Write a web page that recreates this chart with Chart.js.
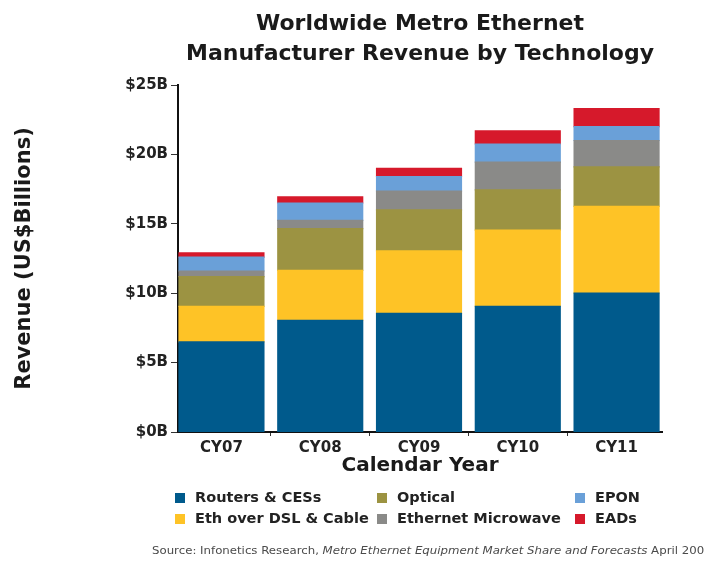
<!DOCTYPE html>
<html>
<head>
<meta charset="utf-8">
<script src="https://cdn.jsdelivr.net/npm/chart.js@4/dist/chart.umd.min.js"></script>
<style>
  html, body { margin: 0; padding: 0; background: #ffffff; }
  #wrap { position: relative; width: 704px; height: 564px; }
</style>
</head>
<body>
<div id="wrap"><canvas id="chart"></canvas></div>
<script>
// Worldwide metro Ethernet manufacturer revenue, US$ billions
const categories = ['CY07', 'CY08', 'CY09', 'CY10', 'CY11'];
const routersCES = [6.5, 8.05, 8.55, 9.05, 10.0];
const ethOverDslCable = [2.55, 3.6, 4.5, 5.5, 6.25];
const optical = [2.15, 3.0, 2.95, 2.9, 2.85];
const ethernetMicrowave = [0.4, 0.6, 1.35, 2.0, 1.9];
const epon = [1.0, 1.25, 1.05, 1.3, 1.0];
const eads = [0.3, 0.45, 0.6, 0.95, 1.3];
const yTicks = [0, 5, 10, 15, 20, 25];

const seriesNames = ['Routers & CESs', 'Eth over DSL & Cable', 'Optical', 'Ethernet Microwave', 'EPON', 'EADs'];
const seriesValues = [routersCES, ethOverDslCable, optical, ethernetMicrowave, epon, eads];
const seriesColors = ['#005a8c', '#fec326', '#9c9342', '#8a8a88', '#6aa0d8', '#d6192b'];

const FONT = "'DejaVu Sans', sans-serif";

const datasets = seriesNames.map((name, s) => ({
  label: name,
  data: seriesValues[s].map((v, i) => ({ x: i, y: v })),
  backgroundColor: seriesColors[s],
  borderWidth: 0,
  inflateAmount: 0.6,
  barPercentage: 0.86,
  categoryPercentage: 1
}));

// Legend laid out in three columns of two, plus the source line
const footerPlugin = {
  id: 'footer',
  afterDraw(chart) {
    const ctx = chart.ctx;
    const colX = [175, 377, 575];
    const rowY = [493, 514];
    ctx.save();
    ctx.font = 'bold 14.5px ' + FONT;
    ctx.textBaseline = 'middle';
    ctx.textAlign = 'left';
    chart.data.datasets.forEach((ds, i) => {
      const x = colX[Math.floor(i / 2)];
      const y = rowY[i % 2];
      ctx.fillStyle = ds.backgroundColor;
      ctx.fillRect(x, y, 10, 10);
      ctx.fillStyle = '#222222';
      ctx.fillText(ds.label, x + 20, y + 5.5);
    });
    ctx.restore();

    // source line, set in a slightly widened face
    const parts = [
      ['Source: Infonetics Research, ', 'normal'],
      ['Metro Ethernet Equipment Market Share and Forecasts', 'italic'],
      [' April 2008', 'normal']
    ];
    ctx.save();
    ctx.translate(152, 551);
    ctx.scale(1.2, 1);
    ctx.textBaseline = 'middle';
    ctx.textAlign = 'left';
    ctx.fillStyle = '#4a4a4a';
    let sx = 0;
    parts.forEach(([txt, style]) => {
      ctx.font = style + ' 9.8px ' + FONT;
      ctx.fillText(txt, sx, 0);
      sx += ctx.measureText(txt).width;
    });
    ctx.restore();
  }
};

new Chart(document.getElementById('chart'), {
  type: 'bar',
  data: { datasets },
  plugins: [footerPlugin],
  options: {
    responsive: true,
    maintainAspectRatio: false,
    animation: false,
    layout: { padding: { left: 0, right: 42, top: 0, bottom: 85 } },
    plugins: {
      legend: { display: false },
      tooltip: { enabled: false },
      title: {
        display: true,
        fullSize: false,
        text: ['Worldwide Metro Ethernet', 'Manufacturer Revenue by Technology'],
        color: '#1a1a1a',
        font: { family: FONT, size: 22, weight: 'bold', lineHeight: '30px' },
        padding: { top: 9, bottom: 16 }
      }
    },
    scales: {
      x: {
        type: 'linear',
        stacked: true,
        min: -0.44,
        max: 4.46,
        offset: false,
        afterFit: (s) => { s.height = 47; },
        border: { display: true, color: '#111111', width: 2 },
        grid: { display: true, drawOnChartArea: false, drawTicks: true, tickLength: 4, color: '#333333' },
        ticks: {
          stepSize: 1,
          includeBounds: false,
          autoSkip: false,
          maxRotation: 0,
          padding: 3,
          color: '#222222',
          font: { family: FONT, size: 15, weight: 'bold' },
          callback: (v) => (Number.isInteger(v) && categories[v] !== undefined ? categories[v] : '')
        },
        title: {
          display: true,
          text: 'Calendar Year',
          color: '#1a1a1a',
          font: { family: FONT, size: 20, weight: 'bold' },
          padding: { top: 0, bottom: 1 }
        }
      },
      y: {
        stacked: true,
        min: 0,
        max: 25,
        afterFit: (s) => { s.width = 178; },
        afterBuildTicks: (s) => { s.ticks = yTicks.map((v) => ({ value: v })); },
        border: { display: true, color: '#111111', width: 2 },
        grid: { display: true, drawOnChartArea: false, drawTicks: true, tickLength: 7, color: '#333333' },
        ticks: {
          padding: 3,
          color: '#222222',
          font: { family: FONT, size: 15, weight: 'bold' },
          callback: (v) => '$' + v + 'B'
        },
        title: {
          display: true,
          text: 'Revenue (US$Billions)',
          color: '#1a1a1a',
          font: { family: FONT, size: 21, weight: 'bold' },
          padding: { top: 12, bottom: 0 }
        }
      }
    }
  }
});
</script>
</body>
</html>
